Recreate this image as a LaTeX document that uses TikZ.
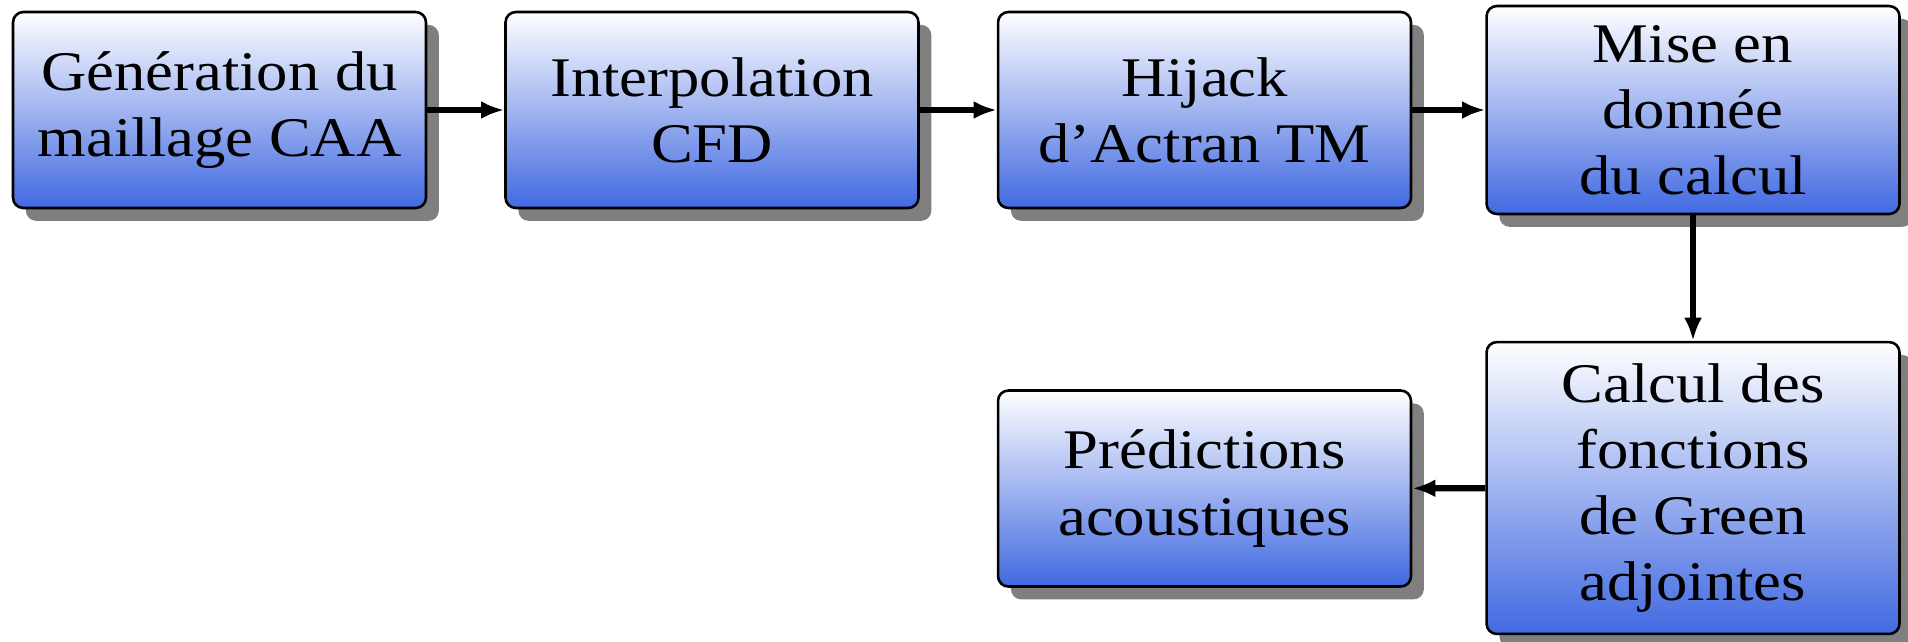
\documentclass[tikz,border=0pt]{standalone}
\usepackage{fontspec}
\setmainfont{Liberation Serif}[FakeStretch=1.12]
\usetikzlibrary{shadows,arrows.meta}
\definecolor{boxblue}{RGB}{65,105,225}
\begin{document}
\begin{tikzpicture}[x=0.2717pt,y=-0.2717pt,
  stepbox/.style={draw=black, line width=0.7pt, rounded corners=2.8pt,
    top color=white, bottom color=boxblue, align=center,
    minimum width=112.2pt, minimum height=53.25pt, inner sep=0pt,
    font=\fontsize{15.2}{18}\selectfont,
    drop shadow={shadow xshift=3.5pt, shadow yshift=-3.5pt, opacity=0.5, fill=black}},
  flow/.style={line width=1.7pt, -{Latex[length=6.3pt,width=4.9pt]}}]
\useasboundingbox (0,0) rectangle (1908,641);

% process steps
\node[stepbox] (mesh)   at (219.5,110) {G\'en\'eration du\\maillage CAA};
\node[stepbox] (interp) at (712,110)   {Interpolation\\CFD};
\node[stepbox] (hijack) at (1204.5,110) {Hijack\\d'Actran TM};
\node[stepbox, minimum height=56.5pt] (setup) at (1693,110) {Mise en\\donn\'ee\\du calcul};
\node[stepbox, minimum height=79.3pt] (green) at (1693,488) {Calcul des\\fonctions\\de Green\\adjointes};
\node[stepbox] (pred)   at (1204.5,488.5) {Pr\'edictions\\acoustiques};

% flow between steps
\draw[flow] (mesh) -- (interp);
\draw[flow] (interp) -- (hijack);
\draw[flow] (hijack) -- (setup);
\draw[flow] (setup) -- (green);
\draw[flow] (green) -- (pred);
\end{tikzpicture}
\end{document}
